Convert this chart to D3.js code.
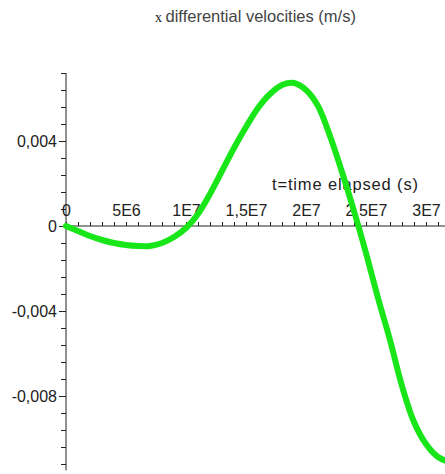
<!DOCTYPE html>
<html><head><meta charset="utf-8">
<script src="https://cdn.jsdelivr.net/npm/d3@7"></script>
<style>
body{margin:0;background:#fff;}
svg{display:block;}
text{font-family:"Liberation Sans",Arial,sans-serif;fill:#222;}
</style></head>
<body><svg id="c" width="445" height="474"></svg>
<script>
// time (s) and x differential velocity (m/s)
const timeValues = [0, 1e6, 2e6, 3e6, 4e6, 5e6, 6e6, 7e6, 8e6, 9e6, 10e6, 11e6, 12e6, 13e6, 14e6, 15e6, 16e6, 17e6, 18e6, 19e6, 20e6, 21e6, 22e6, 23e6, 24e6, 25e6, 26e6, 27e6, 28e6, 29e6, 30e6, 31e6, 31.7e6];
const velocityValues = [0, -0.000235, -0.000471, -0.000659, -0.000800, -0.000894, -0.000941, -0.000941, -0.000800, -0.000518, -0.000094, 0.000565, 0.001506, 0.002588, 0.003671, 0.004659, 0.005553, 0.006212, 0.006635, 0.006729, 0.006400, 0.005647, 0.004235, 0.002541, 0.000706, -0.001271, -0.003388, -0.005365, -0.007529, -0.009224, -0.010259, -0.010871, -0.011059];
const xTickValues = [0, 5e6, 1e7, 1.5e7, 2e7, 2.5e7, 3e7];
const xTickLabels = ["0", "5E6", "1E7", "1,5E7", "2E7", "2,5E7", "3E7"];
const yTickValues = [-0.008, -0.004, 0, 0.004];
const yTickLabels = ["-0,008", "-0,004", "0", "0,004"];
const titleVar = "x";
const titleText = "differential velocities (m/s)";
const xAxisLabel = "t=time elapsed (s)";

const svg = d3.select("#c");
const x = d3.scaleLinear().domain([0, 3.2e7]).range([66, 66 + 12 * 32]);
const y = d3.scaleLinear().domain([0.0072, -0.0115]).range([73, 73 + (0.0187 / 0.004) * 85]);

// minor y ticks
const yMinor = d3.range(-0.0112, 0.00721, 0.0008).map(v => Math.round(v * 1e5) / 1e5);
svg.append("g").attr("transform", "translate(66,0)")
  .call(d3.axisLeft(y).tickValues(yMinor).tickSize(5).tickFormat(""))
  .call(g => g.select(".domain").remove())
  .call(g => g.selectAll("line").attr("stroke", "#222"));
// major y axis
svg.append("g").attr("transform", "translate(66,0)")
  .call(d3.axisLeft(y).tickValues(yTickValues).tickSizeInner(7).tickSizeOuter(0)
    .tickFormat((d, i) => yTickLabels[i]))
  .call(g => g.select(".domain").attr("stroke", "#222").attr("d", `M0,${y.range()[0]}V${y.range()[1]}`))
  .call(g => g.selectAll("line").attr("stroke", "#222"))
  .call(g => g.selectAll("text").attr("font-size", 16).attr("font-family", "Liberation Sans, Arial, sans-serif").attr("fill", "#444").attr("dx", "1"));

// x axis
const xMinor = d3.range(0, 3.3e7, 1e6);
svg.append("g").attr("transform", `translate(0,${y(0)})`)
  .call(d3.axisTop(x).tickValues(xMinor).tickSize(4).tickFormat(""))
  .call(g => g.select(".domain").remove())
  .call(g => g.selectAll("line").attr("stroke", "#222"));
svg.append("line").attr("x1", 66).attr("x2", 445).attr("y1", y(0)).attr("y2", y(0)).attr("stroke", "#222");
svg.append("g").attr("transform", `translate(0,${y(0)})`)
  .call(d3.axisTop(x).tickValues(xTickValues).tickSize(0).tickPadding(10).tickFormat((d, i) => xTickLabels[i]))
  .call(g => g.select(".domain").remove())
  .call(g => g.selectAll("text").attr("font-size", 16).attr("font-family", "Liberation Sans, Arial, sans-serif").attr("fill", "#444"));

// axis label
svg.append("text").attr("x", 272).attr("y", 190).attr("font-size", 16.5).attr("fill", "#444")
  .attr("textLength", 146).attr("lengthAdjust", "spacing").text(xAxisLabel);

// title
const t = svg.append("text").attr("x", 155).attr("y", 22);
t.append("tspan").attr("font-family", "Liberation Serif, Times New Roman, serif").attr("font-size", 14).text(titleVar + " ");
t.append("tspan").attr("font-size", 16.5).attr("fill", "#444").text(titleText);

// curve
const pts = timeValues.map((d, i) => [d, velocityValues[i]]);
svg.append("path").datum(pts)
  .attr("fill", "none").attr("stroke", "#18e618").attr("stroke-width", 6).attr("stroke-linecap", "round")
  .attr("d", d3.line().x(d => x(d[0])).y(d => y(d[1])).curve(d3.curveCatmullRom.alpha(0.5)));
</script></body></html>
